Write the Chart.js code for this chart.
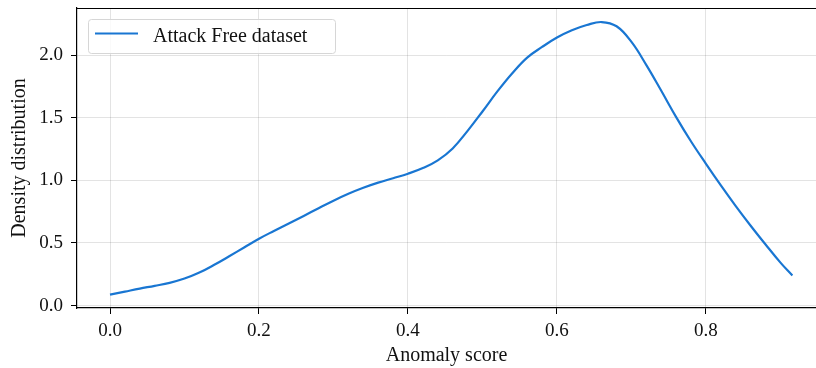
<!DOCTYPE html>
<html>
<head>
<meta charset="utf-8">
<script src="https://cdn.jsdelivr.net/npm/chart.js@4.4.1/dist/chart.umd.min.js"></script>
<style>
  html, body { margin: 0; padding: 0; background: #fff; }
  #wrap { width: 816px; height: 368px; }
</style>
</head>
<body>
<div id="wrap"><canvas id="densityChart" width="816" height="368"></canvas></div>
<script>
// anomaly score (x) and estimated density (y)
const scores = [0.00, 0.02, 0.04, 0.06, 0.08, 0.10, 0.12, 0.14, 0.16, 0.18, 0.20, 0.22, 0.24, 0.26,
  0.28, 0.30, 0.32, 0.34, 0.36, 0.38, 0.40, 0.42, 0.44, 0.46, 0.48, 0.50, 0.52, 0.54, 0.56,
  0.58, 0.60, 0.62, 0.64, 0.66, 0.68, 0.70, 0.72, 0.74, 0.76, 0.78, 0.80, 0.82, 0.84, 0.86,
  0.88, 0.90, 0.916];
const density = [0.088, 0.112, 0.136, 0.158, 0.182, 0.216, 0.264, 0.326, 0.394, 0.464, 0.534, 0.596, 0.656, 0.716,
  0.778, 0.838, 0.893, 0.941, 0.982, 1.017, 1.053, 1.098, 1.160, 1.255, 1.395, 1.550, 1.710, 1.855, 1.980,
  2.065, 2.140, 2.198, 2.240, 2.264, 2.230, 2.105, 1.920, 1.715, 1.505, 1.310, 1.132, 0.960, 0.795, 0.638,
  0.488, 0.343, 0.240];
const xTicks = [0.0, 0.2, 0.4, 0.6, 0.8];
const yTicks = [0.0, 0.5, 1.0, 1.5, 2.0];
const seriesLabel = 'Attack Free dataset';

const SERIF = "'Liberation Serif', 'DejaVu Serif', serif";
const lineColor = '#1976d2';

// top spine + legend box drawn inside the plot, like matplotlib
const framePlugin = {
  id: 'frame',
  afterDraw(chart) {
    const ctx = chart.ctx;
    const area = chart.chartArea;
    ctx.save();
    ctx.strokeStyle = '#000';
    ctx.lineWidth = 1.2;
    ctx.beginPath();
    ctx.moveTo(area.left, area.top + 0.5);
    ctx.lineTo(area.right, area.top + 0.5);
    ctx.stroke();

    // legend
    const ds = chart.data.datasets[0];
    const bx = 88, by = 19, bw = 247, bh = 34, r = 3;
    ctx.beginPath();
    ctx.roundRect(bx + 0.5, by + 0.5, bw, bh, r);
    ctx.fillStyle = 'rgba(255,255,255,0.8)';
    ctx.fill();
    ctx.strokeStyle = '#d6d6d6';
    ctx.lineWidth = 1;
    ctx.stroke();
    ctx.beginPath();
    ctx.moveTo(95, 33.5);
    ctx.lineTo(138, 33.5);
    ctx.strokeStyle = ds.borderColor;
    ctx.lineWidth = 2.2;
    ctx.stroke();
    ctx.fillStyle = '#111';
    ctx.font = '20px ' + SERIF;
    ctx.textBaseline = 'alphabetic';
    ctx.textAlign = 'left';
    ctx.fillText(ds.label, 153, 41.5);
    ctx.restore();
  }
};

const ctx = document.getElementById('densityChart').getContext('2d');
const chart = new Chart(ctx, {
  type: 'line',
  data: {
    datasets: [{
      label: seriesLabel,
      data: scores.map((s, i) => ({ x: s, y: density[i] })),
      borderColor: lineColor,
      borderWidth: 2.2,
      pointRadius: 0,
      fill: false,
      tension: 0.4
    }]
  },
  options: {
    responsive: false,
    animation: false,
    layout: { padding: { top: 8, right: 0, bottom: 0, left: 0 } },
    plugins: {
      legend: { display: false },
      tooltip: { enabled: false }
    },
    scales: {
      x: {
        type: 'linear',
        min: -0.0443,
        max: 0.9477,
        afterBuildTicks: scale => { scale.ticks = xTicks.map(v => ({ value: v })); },
        afterFit: scale => { scale.height = 60; scale.paddingLeft = 0; scale.paddingRight = 0; },
        grid: { color: 'rgba(0,0,0,0.11)', tickColor: '#000', tickLength: 6, lineWidth: 1 },
        border: { color: '#000', width: 1.2 },
        ticks: {
          color: '#111',
          padding: 6,
          font: { family: SERIF, size: 19 },
          callback: v => v.toFixed(1)
        },
        title: {
          display: true,
          text: 'Anomaly score',
          color: '#111',
          padding: { top: 0, bottom: 0 },
          font: { family: SERIF, size: 20 }
        }
      },
      y: {
        min: -0.019,
        max: 2.376,
        afterBuildTicks: scale => { scale.ticks = yTicks.map(v => ({ value: v })); },
        afterFit: scale => { scale.width = 77; scale.paddingTop = 0; scale.paddingBottom = 0; },
        grid: { color: 'rgba(0,0,0,0.11)', tickColor: '#000', tickLength: 6, lineWidth: 1 },
        border: { color: '#000', width: 1.2 },
        ticks: {
          color: '#111',
          padding: 8,
          font: { family: SERIF, size: 19 },
          callback: v => v.toFixed(1)
        },
        title: {
          display: true,
          text: 'Density distribution',
          color: '#111',
          padding: { top: 8, bottom: 0 },
          font: { family: SERIF, size: 20 }
        }
      }
    }
  },
  plugins: [framePlugin]
});
</script>
</body>
</html>
